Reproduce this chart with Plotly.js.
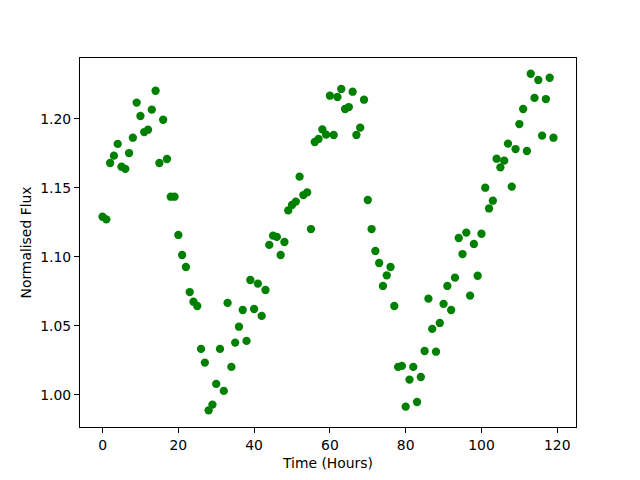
<!DOCTYPE html>
<html>
<head>
<meta charset="utf-8">
<script src="https://cdn.plot.ly/plotly-3.0.1.min.js"></script>
<style>html,body{margin:0;padding:0;background:#fff;}#chart{width:640px;height:480px;}</style>
</head>
<body>
<div id="chart"></div>
<script>
// Time in hours (one sample per hour)
const timeHours = [
  0,1,2,3,4,5,6,7,8,9,10,11,12,13,14,15,16,17,18,19,
  20,21,22,23,24,25,26,27,28,29,30,31,32,33,34,35,36,37,38,39,
  40,41,42,43,44,45,46,47,48,49,50,51,52,53,54,55,56,57,58,59,
  60,61,62,63,64,65,66,67,68,69,70,71,72,73,74,75,76,77,78,79,
  80,81,82,83,84,85,86,87,88,89,90,91,92,93,94,95,96,97,98,99,
  100,101,102,103,104,105,106,107,108,109,110,111,112,113,114,115,116,117,118,119
];
// Normalised flux values
const normalisedFlux = [
  1.1290,1.1271,1.1679,1.1732,1.1817,1.1652,1.1636,1.1751,1.1862,1.2116,
  1.2019,1.1903,1.1920,1.2065,1.2202,1.1679,1.1992,1.1708,1.1435,1.1435,
  1.1158,1.1013,1.0926,1.0745,1.0675,1.0644,1.0333,1.0234,0.9889,0.9930,
  1.0080,1.0333,1.0029,1.0666,1.0203,1.0379,1.0494,1.0615,1.0391,1.0832,
  1.0622,1.0806,1.0572,1.0760,1.1086,1.1153,1.1144,1.1013,1.1107,1.1336,
  1.1375,1.1399,1.1580,1.1447,1.1466,1.1201,1.1831,1.1853,1.1922,1.1884,
  1.2166,1.1882,1.2157,1.2215,1.2070,1.2084,1.2195,1.1882,1.1935,1.2137,
  1.1411,1.1201,1.1042,1.0955,1.0789,1.0866,1.0926,1.0644,1.0203,1.0210,
  0.9915,1.0111,1.0203,0.9949,1.0130,1.0318,1.0697,1.0478,1.0313,1.0521,
  1.0659,1.0789,1.0615,1.0849,1.1136,1.1020,1.1175,1.0719,1.1093,1.0863,
  1.1167,1.1500,1.1350,1.1406,1.1710,1.1647,1.1696,1.1819,1.1508,1.1780,
  1.1961,1.2070,1.1766,1.2325,1.2150,1.2280,1.1877,1.2142,1.2296,1.1862
];
const xTickVals = [0,20,40,60,80,100,120];
const yTickVals = [1.00,1.05,1.10,1.15,1.20];
const yTickText = ["1.00","1.05","1.10","1.15","1.20"];

const trace = {
  x: timeHours,
  y: normalisedFlux,
  type: 'scatter',
  mode: 'markers',
  marker: {color: '#008000', size: 8.3, line: {width: 0}},
  hoverinfo: 'none'
};

const fontFamily = 'DejaVu Sans, sans-serif';
const fontSize = 13.9;
const axisCommon = {
  showgrid: false,
  zeroline: false,
  showline: true,
  mirror: true,
  linecolor: '#000',
  linewidth: 1,
  ticks: 'outside',
  ticklen: 5,
  tickwidth: 1,
  tickcolor: '#000',
  tickfont: {family: fontFamily, size: fontSize, color: '#000'},
  automargin: false
};

const layout = {
  width: 640,
  height: 480,
  margin: {l: 80, r: 64, t: 58, b: 53, pad: 0},
  paper_bgcolor: '#fff',
  plot_bgcolor: '#fff',
  showlegend: false,
  font: {family: fontFamily, color: '#000'},
  xaxis: Object.assign({}, axisCommon, {
    range: [-5.95, 124.95],
    tickmode: 'array',
    tickvals: xTickVals,
    ticktext: xTickVals.map(String),
    title: {text: 'Time (Hours)', font: {family: fontFamily, size: fontSize, color: '#000'}, standoff: 6}
  }),
  yaxis: Object.assign({}, axisCommon, {
    range: [0.9768, 1.2439],
    tickmode: 'array',
    tickvals: yTickVals,
    ticktext: yTickText,
    title: {text: 'Normalised Flux', font: {family: fontFamily, size: fontSize, color: '#000'}, standoff: 5}
  })
};

Plotly.newPlot('chart', [trace], layout, {staticPlot: true, displayModeBar: false});
</script>
</body>
</html>
